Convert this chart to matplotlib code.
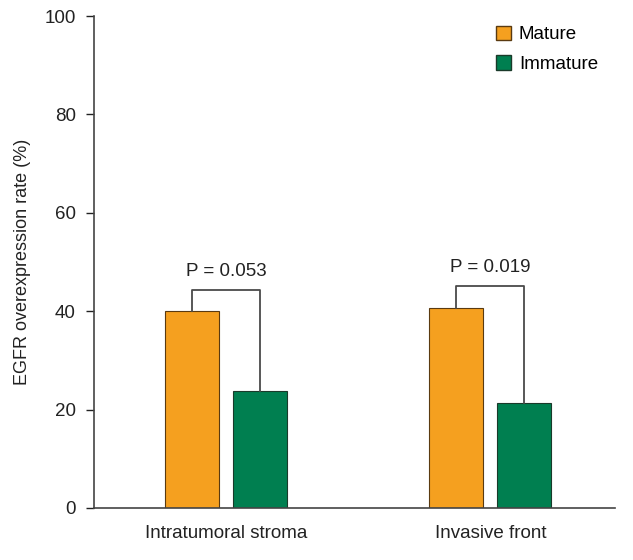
import matplotlib
matplotlib.use("Agg")
import matplotlib.pyplot as plt
from matplotlib.patches import Patch
import matplotlib.font_manager as fm

names = {f.name for f in fm.fontManager.ttflist}
fam = 'Liberation Sans Narrow' if 'Liberation Sans Narrow' in names else 'Liberation Sans'
plt.rcParams['font.family'] = [fam, 'DejaVu Sans']

categories = ["Intratumoral stroma", "Invasive front"]
mature = [40.0, 40.6]
immature = [23.8, 21.3]
bracket_y = [44.3, 45.1]
p_labels = ["P = 0.053", "P = 0.019"]
series_names = ["Mature", "Immature"]
colors = ["#F5A01F", "#007F50"]

fig = plt.figure(figsize=(6.33, 5.6), dpi=100)
ax = fig.add_axes([0.1485, 0.0929, 0.823, 0.8785])

w = 0.204
off = 0.1285
xs = list(range(len(categories)))
ax.bar([x - off for x in xs], mature, w, color=colors[0], edgecolor="#5a3a10", linewidth=0.8)
ax.bar([x + off for x in xs], immature, w, color=colors[1], edgecolor="#1a3a2a", linewidth=0.8)

for x, m, im, by, pl in zip(xs, mature, immature, bracket_y, p_labels):
    ax.plot([x - off, x - off, x + off, x + off], [m, by, by, im], color="#4a4a4a", lw=1.3)
    ax.text(x, by + 2.0, pl, ha="center", va="bottom", fontsize=13.5, color="#222222")

ax.set_xlim(-0.499, 1.471)
ax.set_ylim(0, 100)
ax.set_yticks([0, 20, 40, 60, 80, 100])
ax.set_xticks(xs)
ax.set_xticklabels(categories)
ax.tick_params(axis='x', length=0, pad=12, labelsize=13.5, colors="#222222")
ax.tick_params(axis='y', length=6, width=1, pad=7, labelsize=13.5, colors="#222222")
for s in ['top', 'right']:
    ax.spines[s].set_visible(False)
for s in ['left', 'bottom']:
    ax.spines[s].set_color("#444444")
    ax.spines[s].set_linewidth(1.2)
ax.set_ylabel("EGFR overexpression rate (%)", fontsize=13, color="#222222", labelpad=10)

handles = [Patch(facecolor=colors[0], edgecolor="#5a3a10"), Patch(facecolor=colors[1], edgecolor="#1a3a2a")]
ax.legend(handles, series_names, loc="upper right", bbox_to_anchor=(1.0, 1.015), frameon=False,
          fontsize=13.5, handlelength=0.8, handleheight=0.8, handletextpad=0.4, labelspacing=0.65)

fig.savefig("out.png", dpi=100)
